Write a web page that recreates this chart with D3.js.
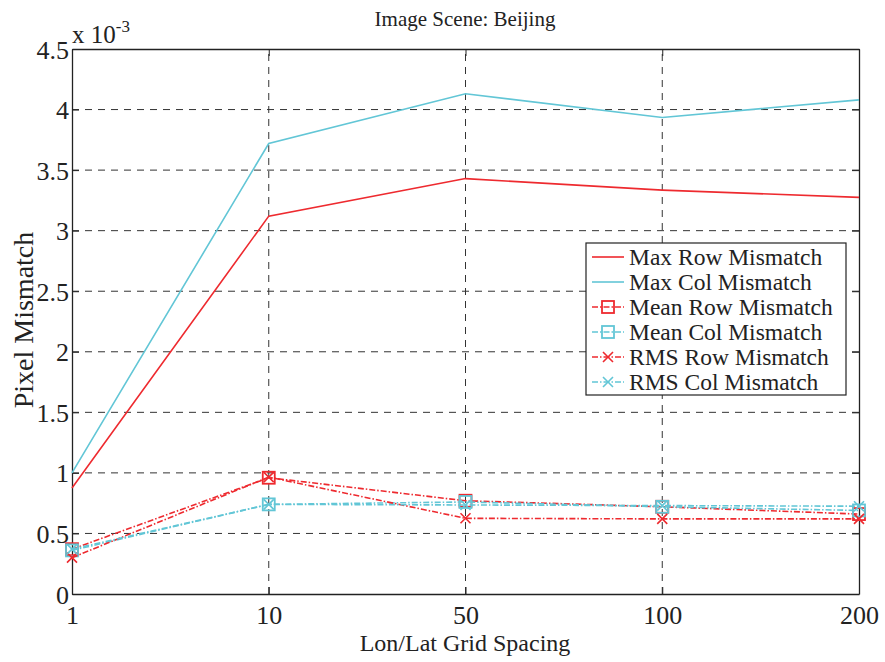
<!DOCTYPE html>
<html>
<head>
<meta charset="utf-8">
<script src="https://cdn.jsdelivr.net/npm/d3@7"></script>
<style>
  body { margin: 0; background: #fff; }
  text { font-family: "Liberation Serif", "Times New Roman", serif; fill: #222; }
</style>
</head>
<body>
<div id="chart"></div>
<script>
// grid spacing categories (equally spaced on the axis)
const spacings = ["1", "10", "50", "100", "200"];
const yTicks = [0, 0.5, 1, 1.5, 2, 2.5, 3, 3.5, 4, 4.5];

// values in units of 1e-3
const maxRow  = [0.875, 3.12, 3.43, 3.335, 3.275];
const maxCol  = [1.0, 3.72, 4.13, 3.935, 4.08];
const meanRow = [0.37, 0.96, 0.77, 0.72, 0.66];
const meanCol = [0.36, 0.74, 0.76, 0.72, 0.69];
const rmsRow  = [0.30, 0.965, 0.625, 0.62, 0.62];
const rmsCol  = [0.37, 0.74, 0.735, 0.73, 0.725];

const red = "#ee2a2f", cyan = "#62c6d6";

const series = [
  {name: "Max Row Mismatch",  vals: maxRow,  color: red,  dash: null, marker: null},
  {name: "Max Col Mismatch",  vals: maxCol,  color: cyan, dash: null, marker: null},
  {name: "Mean Row Mismatch", vals: meanRow, color: red,  dash: "6,2,1.5,2", marker: "square"},
  {name: "Mean Col Mismatch", vals: meanCol, color: cyan, dash: "6,2,1.5,2", marker: "square"},
  {name: "RMS Row Mismatch",  vals: rmsRow,  color: red,  dash: "6,2,1.5,2", marker: "x"},
  {name: "RMS Col Mismatch",  vals: rmsCol,  color: cyan, dash: "6,2,1.5,2", marker: "x"}
];

const width = 885, height = 662;
const margin = {left: 72, right: 26, top: 49, bottom: 68};

const svg = d3.select("#chart").append("svg")
  .attr("width", width).attr("height", height);

const x = d3.scalePoint().domain(spacings)
  .range([margin.left, width - margin.right]);
const y = d3.scaleLinear().domain([0, 4.5])
  .range([height - margin.bottom, margin.top]);

const x0 = margin.left, x1 = width - margin.right;
const y0 = height - margin.bottom, y1 = margin.top;

// grid
const grid = svg.append("g").attr("stroke", "#333").attr("stroke-width", 1)
  .attr("stroke-dasharray", "7,6");
grid.selectAll(".gx").data(spacings.slice(1, -1)).join("line")
  .attr("x1", d => x(d)).attr("x2", d => x(d))
  .attr("y1", y0).attr("y2", y1);
grid.selectAll(".gy").data(yTicks.slice(1, -1)).join("line")
  .attr("x1", x0).attr("x2", x1)
  .attr("y1", d => y(d)).attr("y2", d => y(d));

// axes
const fs = "26px";
const xAxis = svg.append("g").attr("transform", `translate(0,${y0})`)
  .call(d3.axisBottom(x).tickSizeInner(-7).tickSizeOuter(0).tickPadding(11));
const yAxis = svg.append("g").attr("transform", `translate(${x0},0)`)
  .call(d3.axisLeft(y).tickValues(yTicks).tickFormat(d3.format("")).tickSizeInner(-7).tickSizeOuter(0).tickPadding(3));
svg.append("g").attr("transform", `translate(0,${y1})`)
  .call(d3.axisTop(x).tickSizeInner(-7).tickSizeOuter(0).tickFormat(""));
svg.append("g").attr("transform", `translate(${x1},0)`)
  .call(d3.axisRight(y).tickValues(yTicks).tickSizeInner(-7).tickSizeOuter(0).tickFormat(""));
svg.selectAll(".domain").attr("stroke", "#222").attr("stroke-width", 1.3);
svg.selectAll(".tick line").attr("stroke", "#222");
svg.selectAll(".tick text").style("font-size", fs)
  .style("font-family", "Liberation Serif").attr("fill", "#222");
xAxis.selectAll(".tick text").attr("dy", "0.72em");
yAxis.selectAll(".tick text").attr("dy", "0.35em");

// exponent label
const ex = svg.append("text").attr("x", x0).attr("y", 43).style("font-size", "25px");
ex.append("tspan").text("x 10");
ex.append("tspan").attr("dy", -11).style("font-size", "17px").text("-3");

// lines
const line = d3.line().x((d, i) => x(spacings[i])).y(d => y(d));
function drawMarker(g, type, cx, cy, color) {
  if (type === "square") {
    g.append("rect").attr("x", cx - 6).attr("y", cy - 6).attr("width", 12).attr("height", 12)
      .attr("fill", "none").attr("stroke", color).attr("stroke-width", 1.8);
  } else if (type === "x") {
    g.append("path").attr("d", `M${cx-5},${cy-5}L${cx+5},${cy+5}M${cx-5},${cy+5}L${cx+5},${cy-5}`)
      .attr("stroke", color).attr("stroke-width", 1.6);
  }
}
series.forEach(s => {
  const g = svg.append("g");
  g.append("path").datum(s.vals).attr("d", line)
    .attr("fill", "none").attr("stroke", s.color).attr("stroke-width", 1.6)
    .attr("stroke-dasharray", s.dash);
  if (s.marker) s.vals.forEach((v, i) => drawMarker(g, s.marker, x(spacings[i]), y(v), s.color));
});

// legend
const lg = svg.append("g").attr("transform", "translate(586,243)");
lg.append("rect").attr("width", 260).attr("height", 152)
  .attr("fill", "#fff").attr("stroke", "#222").attr("stroke-width", 1.2);
series.forEach((s, i) => {
  const cy = 14 + i * 25;
  lg.append("line").attr("x1", 6).attr("x2", 38).attr("y1", cy).attr("y2", cy)
    .attr("stroke", s.color).attr("stroke-width", 1.6).attr("stroke-dasharray", s.dash);
  if (s.marker) drawMarker(lg, s.marker, 22, cy, s.color);
  lg.append("text").attr("x", 43).attr("y", cy).attr("dy", "0.35em")
    .style("font-size", "23.5px").text(s.name);
});

// titles
svg.append("text").attr("x", 465).attr("y", 26).attr("text-anchor", "middle")
  .style("font-size", "21px").text("Image Scene: Beijing");
svg.append("text").attr("x", 465).attr("y", 651).attr("text-anchor", "middle")
  .style("font-size", "24px").text("Lon/Lat Grid Spacing");
svg.append("text").attr("transform", "translate(33,320) rotate(-90)").attr("text-anchor", "middle")
  .style("font-size", "28px").text("Pixel Mismatch");
</script>
</body>
</html>
